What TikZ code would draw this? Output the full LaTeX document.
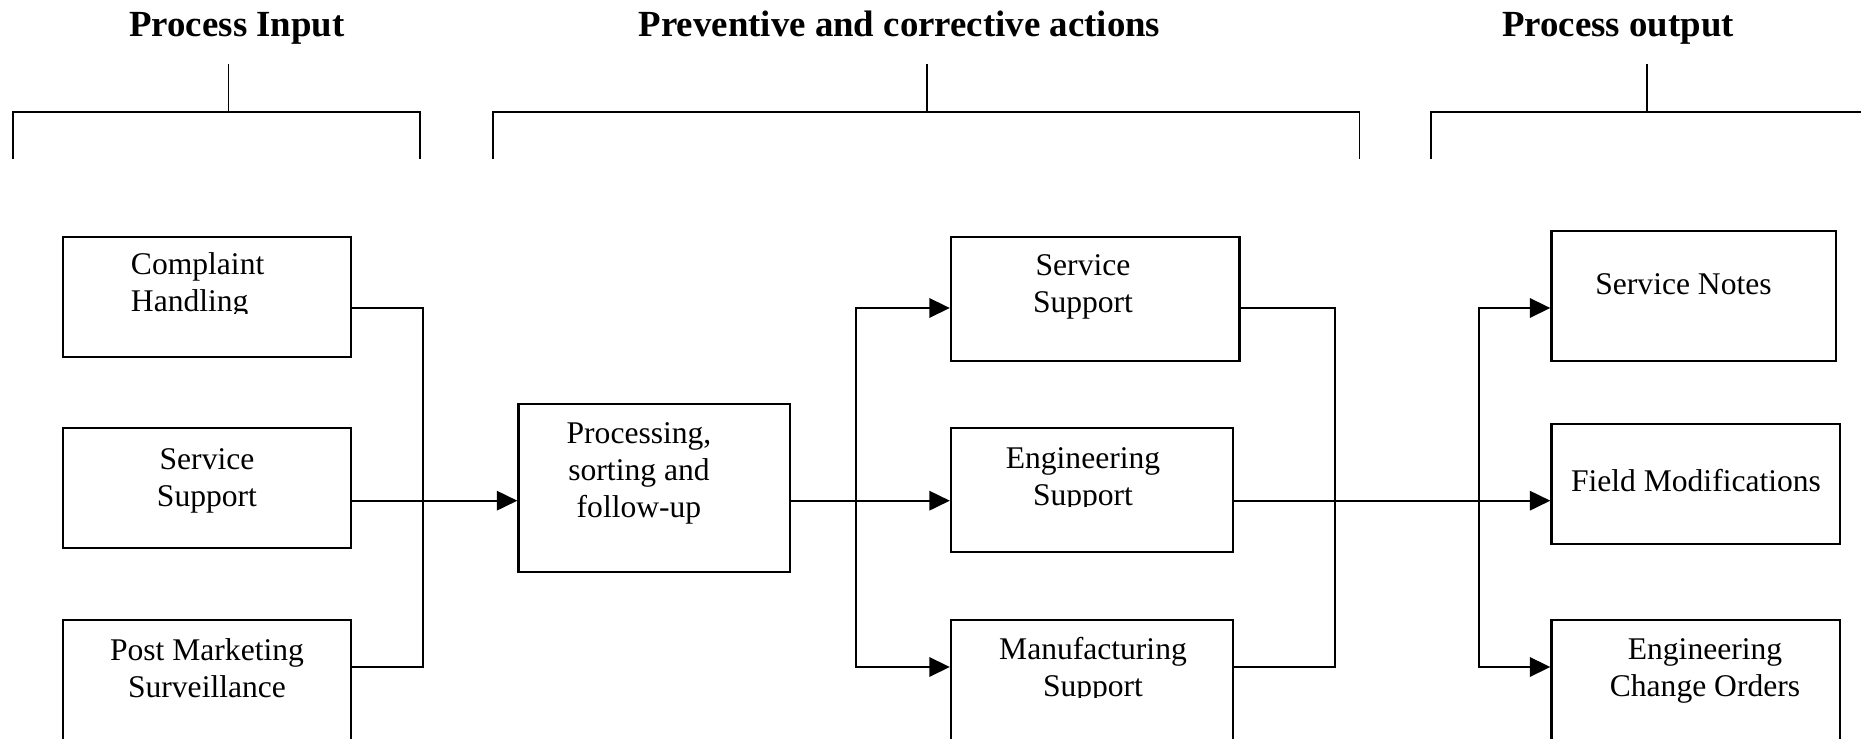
\documentclass[tikz,border=0pt]{standalone}
\usepackage{fontspec}
\setmainfont{Liberation Serif}
\usetikzlibrary{arrows.meta,fit}
\tikzset{
  boite/.style={draw, line width=0.9pt, inner sep=0pt},
  texte/.style={inner sep=0pt, align=center, anchor=base, font=\fontsize{12}{14.2}\selectfont},
  titre/.style={inner sep=0pt, anchor=base, font=\fontsize{14}{16}\selectfont\bfseries},
  fleche/.style={-{Triangle[length=7.8pt,width=7.4pt]}},
}
\begin{document}
\begin{tikzpicture}[x=0.38pt,y=-0.38pt,line width=0.75pt]
  \path[use as bounding box,clip] (0,0) rectangle (1861,739);
  % titres et accolades
  \node[titre] (tIn) at (237,37) {Process Input};
  \node[titre] (tAct) at (899.5,37) {Preventive and corrective actions};
  \node[titre] (tOut) at (1618,37) {Process output};
  \draw (228.5,64) -- (228.5,112); %Entree
  \draw (13,159) |- (420,112) -- (420,159);
  \draw (927,64) -- (927,112); %Actions
  \draw (492.6,159) |- (1359.5,112) -- (1359.5,159);
  \draw (1647,64) -- (1647,112); %Sortie
  \draw (1431,159) |- (1880,112) -- (1880,159);
  % lignes et colonnes des liaisons
  \coordinate (r1) at (0,308);
  \coordinate (r2) at (0,500.7);
  \coordinate (r3) at (0,667);
  \coordinate (busA) at (423,0);
  \coordinate (busB) at (856,0);
  \coordinate (busC) at (1335,0);
  \coordinate (busD) at (1479,0);
  % boites
  \node[boite, fit={(63,237) (351,357)}] (cmp) {};
  \node[boite, fit={(63,428) (351,548)}] (svc) {};
  \node[boite, fit={(63,620) (351,770)}] (pms) {};
  \node[boite, fit={(518.5,404) (790,572)}] (proc) {};
  \node[boite, fit={(951,237) (1239.5,361)}] (ss) {};
  \node[boite, fit={(951,428) (1233,552)}] (eng) {};
  \node[boite, fit={(951,620) (1233,770)}] (mfg) {};
  \node[boite, fit={(1551.5,231) (1836,361)}] (sn) {};
  \node[boite, fit={(1551.5,424) (1840,544)}] (fm) {};
  \node[boite, fit={(1551.5,620) (1840,770)}] (eco) {};
  % textes (base = derniere ligne)
  \begin{scope}
    \clip (63,237) rectangle (351,313.5);
    \node[texte, anchor=base west, align=left] (cmpT) at (130,312) {Complaint\\Handling};
  \end{scope}
  \node[texte] (svcT) at (207,507) {Service\\Support};
  \node[texte] (pmsT) at (207,698) {Post Marketing\\Surveillance};
  \node[texte] (procT) at (639,518) {Processing,\\sorting and\\follow-up};
  \node[texte] (ssT) at (1083,313) {Service\\Support};
  \begin{scope}
    \clip (951,428) rectangle (1233,507);
    \node[texte] (engT) at (1083,506) {Engineering\\Support};
  \end{scope}
  \begin{scope}
    \clip (951,620) rectangle (1233,698);
    \node[texte] (mfgT) at (1093,697) {Manufacturing\\Support};
  \end{scope}
  \node[texte] (snT) at (1683.5,295) {Service Notes};
  \node[texte] (fmT) at (1696,491.7) {Field Modifications};
  \node[texte] (ecoT) at (1705,697) {Engineering\\Change Orders};
  % liaisons
  \draw (cmp.east |- r1) -| (busA |- r3) -- (pms.east |- r3); %Entrees
  \draw[fleche] (svc.east |- r2) -- (proc.west |- r2);
  \draw[fleche] (proc.east |- r2) -- (eng.west |- r2); %Traitement
  \draw[fleche] (busB |- r2) |- (ss.west |- r1);
  \draw[fleche] (busB |- r2) |- (mfg.west |- r3);
  \draw (ss.east |- r1) -| (busC |- r3) -- (mfg.east |- r3); %Actions
  \draw[fleche] (eng.east |- r2) -- (fm.west |- r2);
  \draw[fleche] (busD |- r2) |- (sn.west |- r1); %Sorties
  \draw[fleche] (busD |- r2) |- (eco.west |- r3);
\end{tikzpicture}
\end{document}
